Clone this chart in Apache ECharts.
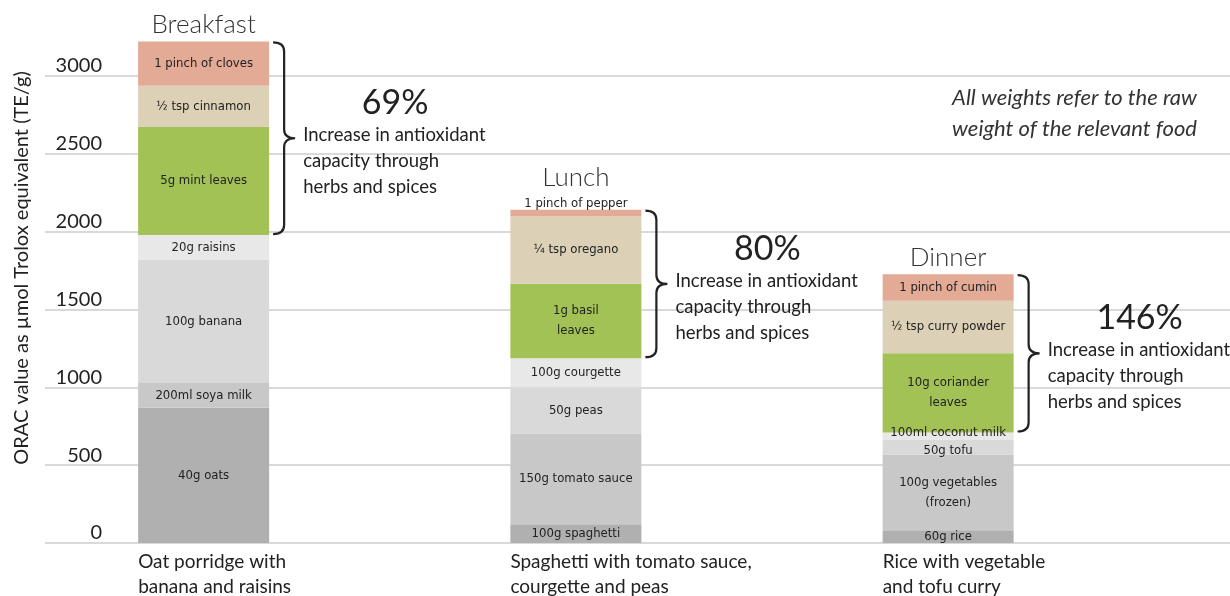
<!DOCTYPE html>
<html>
<head>
<meta charset="utf-8">
<script src="https://cdn.jsdelivr.net/npm/echarts@6/dist/echarts.min.js"></script>
<style>
  html, body { margin: 0; padding: 0; background: #ffffff; }
  #chart { width: 1230px; height: 596px; }
</style>
</head>
<body>
<div id="chart"></div>
<script>
// ---------- data ----------
const meals = ['Breakfast', 'Lunch', 'Dinner'];
const dishes = ['Oat porridge with\nbanana and raisins', 'Spaghetti with tomato sauce,\ncourgette and peas', 'Rice with vegetable\nand tofu curry'];

const grainItems = ['40g oats', '100g spaghetti', '60g rice'];
const grainValues = [869, 120, 82];
const secondItems = ['200ml soya milk', '150g tomato sauce', '100g vegetables\n(frozen)'];
const secondValues = [159, 584, 487];
const thirdItems = ['100g banana', '50g peas', '50g tofu'];
const thirdValues = [793, 296, 92];
const fourthItems = ['20g raisins', '100g courgette', '100ml coconut milk'];
const fourthValues = [157, 187, 49];
const herbItems = ['5g mint leaves', '1g basil\nleaves', '10g coriander\nleaves'];
const herbValues = [695, 478, 509];
const spiceItems = ['½ tsp cinnamon', '¼ tsp oregano', '½ tsp curry powder'];
const spiceValues = [264, 433, 338];
const pinchItems = ['1 pinch of cloves', '1 pinch of pepper', '1 pinch of cumin'];
const pinchValues = [285, 43, 170];

const increaseLabels = ['69%', '80%', '146%'];
const increaseText = 'Increase in antioxidant\ncapacity through\nherbs and spices';
const yMin = 0, yMax = 3000, yInterval = 500;
const yAxisTitle = 'ORAC value as µmol Trolox equivalent (TE/g)';
const note = 'All weights refer to the raw\nweight of the relevant food';

// ---------- styles ----------
const FONT = 'Lato, "Open Sans", sans-serif';
const NARROW = '"Liberation Sans Narrow", "DejaVu Sans Condensed", sans-serif';
const BAR_W = 131;
const layers = [
  { items: grainItems, values: grainValues, color: '#b0b0b0' },
  { items: secondItems, values: secondValues, color: '#c8c8c8' },
  { items: thirdItems, values: thirdValues, color: '#d9d9d9' },
  { items: fourthItems, values: fourthValues, color: '#e8e8e8' },
  { items: herbItems, values: herbValues, color: '#a3c255' },
  { items: spiceItems, values: spiceValues, color: '#dcd0b6' },
  { items: pinchItems, values: pinchValues, color: '#e3aa96' }
];

const barSeries = layers.map((ly, li) => ({
  type: 'bar',
  stack: 'meal',
  xAxisIndex: 1,
  yAxisIndex: 1,
  barWidth: BAR_W,
  clip: false,
  itemStyle: { color: ly.color },
  label: {
    show: true,
    position: 'inside',
    fontFamily: NARROW,
    fontSize: 13,
    lineHeight: 20,
    color: '#222',
    formatter: p => ly.items[p.dataIndex]
  },
  data: ly.values.map((v, i) => {
    const d = { value: v };
    if (li === 6 && v < 100) d.label = { position: 'top', distance: -4 };
    if (li === 3 && v < 60) d.label = { offset: [0, -4] };
    if (li === 2 && v < 100) d.label = { offset: [0, 3] };
    return d;
  })
}));

const baseTotals = meals.map((m, i) => grainValues[i] + secondValues[i] + thirdValues[i] + fourthValues[i]);
const fullTotals = meals.map((m, i) => baseTotals[i] + herbValues[i] + spiceValues[i] + pinchValues[i]);

const annotationSeries = {
  type: 'custom',
  xAxisIndex: 1,
  yAxisIndex: 1,
  clip: false,
  silent: true,
  z: 5,
  data: meals.map((m, i) => [i, baseTotals[i], fullTotals[i], fullTotals[i] - pinchValues[i]]),
  renderItem: (params, api) => {
    const i = params.dataIndex;
    const top = api.coord([api.value(0), api.value(2)]);
    const bot = api.coord([api.value(0), api.value(1)]);
    const pinchBottom = api.coord([api.value(0), api.value(3)]);
    const cx = top[0];
    const x0 = cx + BAR_W / 2 + 4;
    const w = 22;
    const y0 = top[1] + 1, y1 = bot[1] - 1;
    const ym = (y0 + y1) / 2;
    const r = 9;
    const xs = x0 + w * 0.5;
    const path = `M${x0},${y0} Q${xs},${y0} ${xs},${y0 + r} L${xs},${ym - r} Q${xs},${ym} ${x0 + w},${ym} Q${xs},${ym} ${xs},${ym + r} L${xs},${y1 - r} Q${xs},${y1} ${x0},${y1}`;
    const tx = x0 + w + 8;
    const thin = (pinchBottom[1] - top[1]) < 12;
    return {
      type: 'group',
      children: [
        { type: 'path', shape: { pathData: path }, style: { fill: null, stroke: '#222', lineWidth: 2.2 } },
        { type: 'text', style: { x: tx + 92, y: ym - 35, text: increaseLabels[i], font: '34px ' + FONT, fill: '#222', align: 'center', verticalAlign: 'middle' } },
        { type: 'text', style: { x: tx, y: ym - 16, text: increaseText, font: '18.5px ' + FONT, lineHeight: 26, fill: '#222', align: 'left', verticalAlign: 'top' } },
        { type: 'text', style: { x: cx, y: top[1] - (thin ? 19 : 4), text: meals[i], font: '300 26px ' + FONT, fill: '#333', align: 'center', verticalAlign: 'bottom' } }
      ]
    };
  }
};

const chart = echarts.init(document.getElementById('chart'), null, { renderer: 'canvas' });
chart.setOption({
  animation: false,
  backgroundColor: '#ffffff',
  grid: [
    { left: 45, right: 0, top: 76, bottom: 53 },
    { left: 17.5, width: 1116.75, top: 76, bottom: 53 }
  ],
  xAxis: [
    { type: 'value', gridIndex: 0, show: false, min: 0, max: 1 },
    {
      type: 'category', gridIndex: 1, data: dishes,
      axisLine: { show: false }, axisTick: { show: false },
      axisLabel: {
        width: BAR_W, align: 'center', overflow: 'none', margin: 6,
        formatter: v => v.split('\n').map(l => '{a|' + l + '}').join('\n'),
        rich: { a: { align: 'left', fontFamily: FONT, fontSize: 19, lineHeight: 25, color: '#222' } }
      }
    }
  ],
  yAxis: [
    {
      type: 'value', gridIndex: 0, min: yMin, max: yMax, interval: yInterval,
      axisLine: { show: false }, axisTick: { show: false },
      splitLine: { show: true, lineStyle: { color: '#cccccc', width: 1.5 } },
      axisLabel: { inside: true, align: 'right', verticalAlign: 'bottom', margin: 57, fontFamily: FONT, fontSize: 20, color: '#222', formatter: v => String(v) }
    },
    {
      type: 'value', gridIndex: 1, min: yMin, max: yMax, interval: yInterval,
      show: false, splitLine: { show: false }
    }
  ],
  graphic: [
    { type: 'text', x: 22, y: 268, rotation: Math.PI / 2, style: { text: yAxisTitle, font: '20px ' + FONT, fill: '#222', align: 'center', verticalAlign: 'middle' } },
    { type: 'text', x: 1197, y: 82, style: { text: note, font: 'italic 22px ' + FONT, lineHeight: 31, fill: '#333', align: 'right', verticalAlign: 'top' } }
  ],
  series: [...barSeries, annotationSeries]
});
</script>
</body>
</html>
